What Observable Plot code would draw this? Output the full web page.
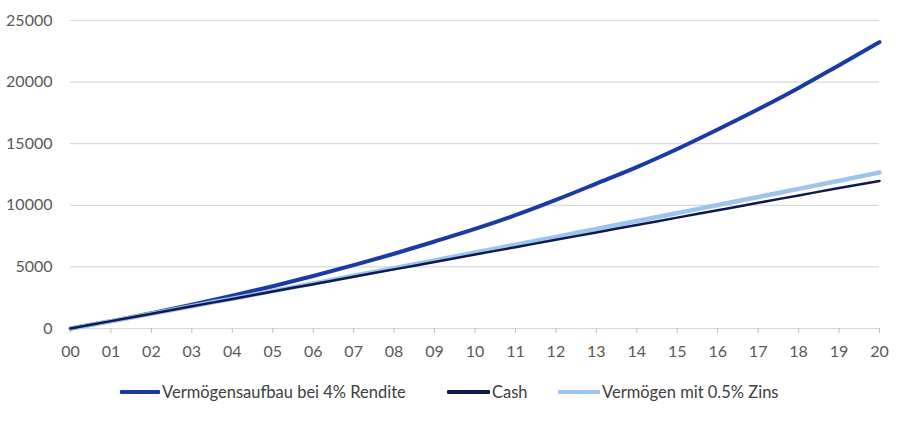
<!DOCTYPE html>
<html>
<head>
<meta charset="utf-8">
<script src="https://cdn.jsdelivr.net/npm/d3@7"></script>
<script src="https://cdn.jsdelivr.net/npm/@observablehq/plot@0.6"></script>
<style>
  body { margin: 0; background: #fff; }
  #chart { width: 900px; position: relative; }
  .legend { position: relative; height: 51px; font-family: Lato, sans-serif; font-size: 16.5px; color: #404040; }
  .item { position: absolute; display: flex; align-items: center; height: 20px; }
  .sw { height: 4px; margin-right: 2px; border-radius: 1px; }
</style>
</head>
<body>
<div id="chart"></div>
<script>
const years = d3.range(0, 21);
const tickLabels = ["00","01","02","03","04","05","06","07","08","09","10","11","12","13","14","15","16","17","18","19","20"];
const rendite4 = [0, 600, 1240, 1930, 2660, 3430, 4260, 5140, 6070, 7060, 8080, 9200, 10440, 11760, 13100, 14570, 16150, 17790, 19520, 21370, 23240];
const cash = [0, 600, 1200, 1800, 2400, 3000, 3600, 4200, 4800, 5400, 6000, 6600, 7200, 7800, 8400, 9000, 9600, 10200, 10800, 11400, 11980];
const zins05 = [0, 590, 1195, 1805, 2420, 3035, 3655, 4275, 4900, 5530, 6170, 6800, 7440, 8080, 8720, 9370, 10020, 10680, 11330, 11990, 12660];
const yTicks = [0, 5000, 10000, 15000, 20000, 25000];
const seriesNames = ["Vermögensaufbau bei 4% Rendite", "Cash", "Vermögen mit 0.5% Zins"];
const colors = ["#1a3ba6", "#0e1a4d", "#9dc3ef"];

const toRows = (vals) => years.map((y, i) => ({year: y, value: vals[i]}));

const plot = Plot.plot({
  width: 900,
  height: 370,
  marginLeft: 70,
  marginRight: 21,
  marginTop: 20,
  marginBottom: 42,
  style: {fontFamily: "Lato, sans-serif", fontSize: "16px", color: "#595959", background: "#fff"},
  x: {domain: [0, 20], label: null},
  y: {domain: [0, 25000], label: null},
  marks: [
    Plot.ruleY(yTicks, {stroke: "#d9d9d9", strokeWidth: 1.2}),
    Plot.axisX({ticks: years, tickFormat: (d) => tickLabels[d], stroke: "#bfbfbf", tickSize: 5, tickPadding: 12, label: null, fill: "#595959"}),
    Plot.axisY({ticks: yTicks, tickFormat: d3.format("d"), tickSize: 0, tickPadding: 18, label: null, fill: "#595959"}),
    Plot.line(toRows(rendite4), {x: "year", y: "value", stroke: colors[0], strokeWidth: 4, curve: "monotone-x"}),
    Plot.line(toRows(zins05), {x: "year", y: "value", stroke: colors[2], strokeWidth: 4.5, curve: "monotone-x"}),
    Plot.line(toRows(cash), {x: "year", y: "value", stroke: colors[1], strokeWidth: 2.5, curve: "monotone-x"})
  ]
});
document.getElementById("chart").appendChild(plot);

const legend = document.createElement("div");
legend.className = "legend";
const lefts = [120, 447, 558];
const swWidths = [40, 43, 42];
seriesNames.forEach((name, i) => {
  const it = document.createElement("div");
  it.className = "item";
  it.style.left = lefts[i] + "px";
  it.style.top = "12px";
  const sw = document.createElement("span");
  sw.className = "sw";
  sw.style.width = swWidths[i] + "px";
  sw.style.background = colors[i];
  const t = document.createElement("span");
  t.textContent = name;
  it.appendChild(sw);
  it.appendChild(t);
  legend.appendChild(it);
});
document.getElementById("chart").appendChild(legend);
</script>
</body>
</html>
